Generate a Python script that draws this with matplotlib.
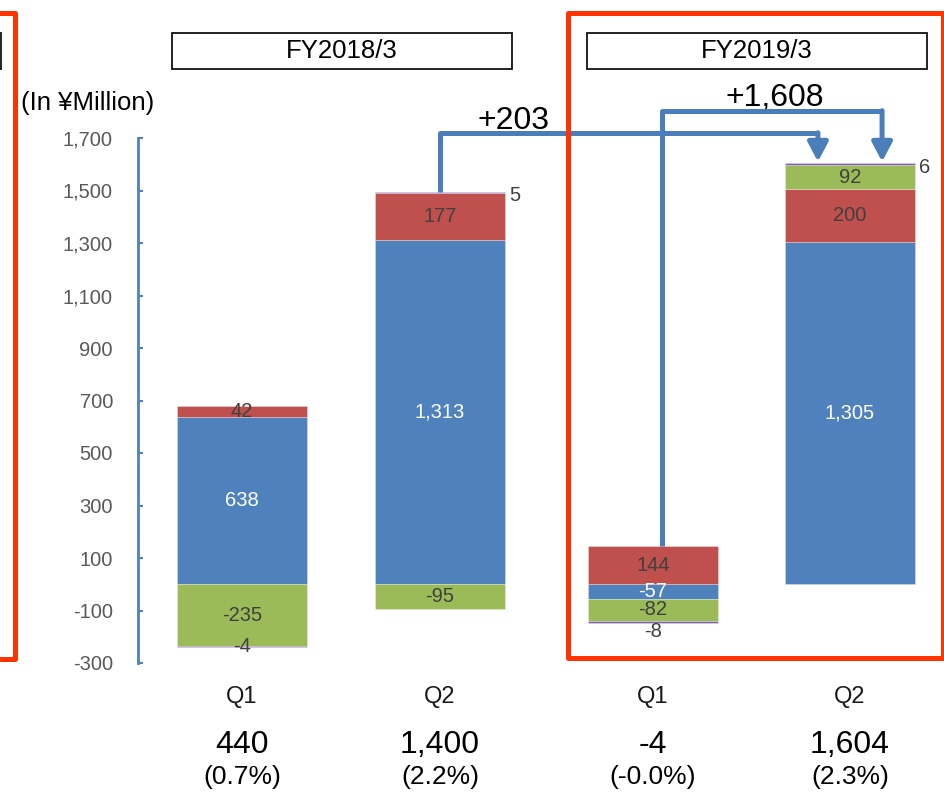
import matplotlib
matplotlib.use("Agg")
import matplotlib.pyplot as plt
from matplotlib.patches import Rectangle

plt.rcParams["font.family"] = ["Liberation Sans", "DejaVu Sans"]

# data
years = ["FY2018/3", "FY2019/3"]
quarters = ["Q1", "Q2", "Q1", "Q2"]
blue = [638, 1313, -57, 1305]
red = [42, 177, 144, 200]
green = [-235, -95, -82, 92]
purple = [-4, 5, -8, 6]
totals = ["440", "1,400", "-4", "1,604"]
ratios = ["(0.7%)", "(2.2%)", "(-0.0%)", "(2.3%)"]
changes = ["+203", "+1,608"]

# layout
W, H = 945, 793
xpos = [0, 1, 2.076, 3.071]
bar_w = 0.657
colors = ["#4F81BD", "#C0504D", "#9BBB59", "#8064A2"]
label_colors = ["white", "#404040", "#404040", "#404040"]
line_blue = "#4A7EBB"
red_frame = "#FF3300"
nudge = {(3, 2): -7}  # label pushed below its neighbour


def fig_rect(x0, y0, x1, y1):
    # pixel box (top-left origin) -> figure fraction rectangle
    return (x0 / W, 1 - y1 / H), (x1 - x0) / W, (y1 - y0) / H


fig = plt.figure(figsize=(W / 100, H / 100), dpi=100)
ax = fig.add_axes([138 / W, 1 - 663 / H, (W - 138) / W, 525 / H])

series = [blue, red, green, purple]
pos_base = [0.0] * 4
neg_base = [0.0] * 4
for s, vals in enumerate(series):
    for i, v in enumerate(vals):
        if v >= 0:
            bottom = pos_base[i]
            pos_base[i] += v
        else:
            bottom = neg_base[i]
            neg_base[i] += v
        ax.bar(xpos[i], v, bottom=bottom, width=bar_w, color=colors[s],
               edgecolor=(1, 1, 1, 0.5), linewidth=0.4, zorder=2)
        txt = f"{v:,}"
        if 0 < v < 10:
            ax.annotate(txt, (xpos[i] + bar_w / 2, bottom + v), xytext=(3, -3),
                        textcoords="offset points", ha="left", va="center",
                        fontsize=14.5, color="#404040", zorder=4)
        elif -10 < v < 0:
            ax.annotate(txt, (xpos[i], bottom + v / 2), xytext=(0, nudge.get((s, i), 0)),
                        textcoords="offset points", ha="center", va="center",
                        fontsize=14.5, color="#404040", zorder=4)
        else:
            ax.text(xpos[i], bottom + v / 2, txt, ha="center", va="center",
                    fontsize=14.5, color=label_colors[s], zorder=4)
tops = pos_base

ax.set_xlim(-0.525, -0.525 + (W - 138) / 198)
ax.set_ylim(-300, 1700)
ax.set_yticks(range(-300, 1701, 200))
ax.set_yticklabels([f"{t:,}" for t in range(-300, 1701, 200)])
ax.tick_params(axis="y", direction="in", length=3.6, width=1.5, color="#4F81BD",
               labelsize=14.5, labelcolor="#595959", pad=18)
ax.set_xticks([])
for side in ["top", "right", "bottom"]:
    ax.spines[side].set_visible(False)
ax.spines["left"].set_color("#4F81BD")
ax.spines["left"].set_linewidth(2)

# connectors between quarters
conn = [
    (xpos[1], tops[1], 1720, xpos[3] - 0.162),
    (xpos[2] + 0.045, tops[2], 1804, xpos[3] + 0.162),
]
tip = 1610
for (x0, y0, ylev, x1), lab, lx, ly in zip(conn, changes, [1.37, 2.69], [1766, 1853]):
    ax.plot([x0, x0, x1], [y0, ylev, ylev], color=line_blue, lw=3.6,
            solid_joinstyle="round", solid_capstyle="butt", clip_on=False, zorder=5)
    ax.annotate("", xy=(x1, tip), xytext=(x1, ylev),
                arrowprops=dict(arrowstyle="-|>,head_length=1.15,head_width=0.61",
                                mutation_scale=10, color=line_blue, lw=3.6,
                                shrinkA=0, shrinkB=0),
                annotation_clip=False, zorder=5)
    ax.text(lx, ly, lab, ha="center", va="center", fontsize=23, color="black",
            zorder=3, clip_on=False)

# quarter names, totals and ratios under the bars
for i in range(4):
    ax.annotate(quarters[i], (xpos[i], H - 697), xycoords=("data", "figure pixels"),
                ha="center", va="center", fontsize=17, color="#1a1a1a")
    ax.annotate(totals[i], (xpos[i], H - 745), xycoords=("data", "figure pixels"),
                ha="center", va="center", fontsize=23, color="black")
    ax.annotate(ratios[i], (xpos[i], H - 777), xycoords=("data", "figure pixels"),
                ha="center", va="center", fontsize=19, color="black")

fig.text(21 / W, 1 - 103 / H, "(In ¥Million)", ha="left", va="center",
         fontsize=18.5, color="black")

# year header boxes
for (x0, x1), name in zip([(172, 512), (587, 927)], years):
    xy, w, h = fig_rect(x0, 33, x1, 69)
    fig.patches.append(Rectangle(xy, w, h, transform=fig.transFigure, fill=False,
                                 edgecolor="#111111", lw=1.3))
    fig.text((x0 + x1) / 2 / W, 1 - 51 / H, name, ha="center", va="center",
             fontsize=18.5, color="black")
xy, w, h = fig_rect(-100, 33, 1, 69)
fig.patches.append(Rectangle(xy, w, h, transform=fig.transFigure, fill=False,
                             edgecolor="#111111", lw=1.3))

# red highlight frames
for box in [(-60, 12.5, 15, 659), (568, 12.5, 943.5, 657.5)]:
    xy, w, h = fig_rect(*box)
    fig.patches.append(Rectangle(xy, w, h, transform=fig.transFigure, fill=False,
                                 edgecolor=red_frame, lw=3.6, joinstyle="round",
                                 zorder=6))

fig.savefig("out.png", dpi=100)
